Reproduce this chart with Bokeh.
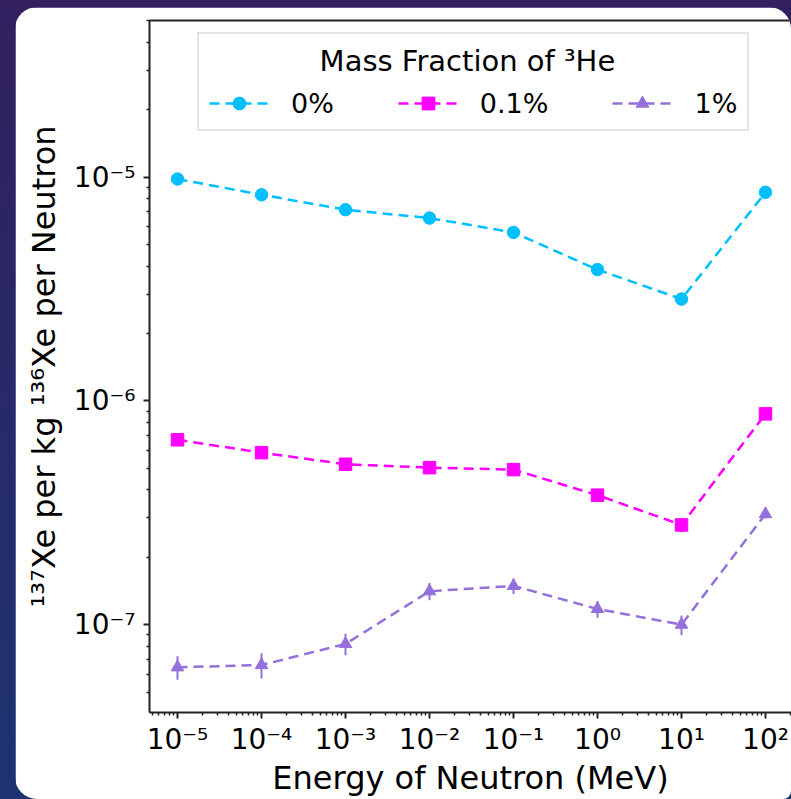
from bokeh.plotting import figure
from bokeh.models import (LogAxis, FixedTicker, CustomJSTickFormatter, Legend,
                          LegendItem, Range1d)
from bokeh.layouts import column
from bokeh.embed import file_html
from bokeh.resources import INLINE

# ---------------- data ----------------
energy = [1e-5, 1e-4, 1e-3, 1e-2, 1e-1, 1e0, 1e1, 1e2]

series_labels = ["0%", "0.1%", "1%"]
xe_0 = [9.8e-6, 8.34e-6, 7.15e-6, 6.56e-6, 5.66e-6, 3.86e-6, 2.85e-6, 8.55e-6]
err_0 = [3.0e-7, 2.5e-7, 2.2e-7, 2.0e-7, 1.7e-7, 1.2e-7, 0.9e-7, 2.6e-7]
xe_01 = [6.7e-7, 5.87e-7, 5.21e-7, 5.03e-7, 4.93e-7, 3.79e-7, 2.79e-7, 8.75e-7]
err_01 = [2.7e-8, 2.4e-8, 2.1e-8, 2.0e-8, 2.0e-8, 1.6e-8, 2.0e-8, 3.5e-8]
xe_1 = [6.45e-8, 6.6e-8, 8.2e-8, 1.41e-7, 1.49e-7, 1.175e-7, 1.0e-7, 3.12e-7]
err_1 = [0.77e-8, 0.85e-8, 0.9e-8, 1.25e-8, 1.2e-8, 1.0e-8, 1.0e-8, 1.3e-8]

x_ticks = [1e-5, 1e-4, 1e-3, 1e-2, 1e-1, 1e0, 1e1, 1e2]
x_tick_labels = ["10\u207b\u2075", "10\u207b\u2074", "10\u207b\u00b3", "10\u207b\u00b2",
                 "10\u207b\u00b9", "10\u2070", "10\u00b9", "10\u00b2"]
y_ticks = [1e-7, 1e-6, 1e-5]
y_tick_labels = ["10\u207b\u2077", "10\u207b\u2076", "10\u207b\u2075"]

legend_title = "Mass Fraction of \u00b3He"
x_label = "Energy of Neutron (MeV)"
y_label = "\u00b9\u00b3\u2077Xe per kg \u00b9\u00b3\u2076Xe per Neutron"

colors = ["#00bfff", "#ff00ff", "#9370db"]
markers = ["circle", "square", "triangle"]

FONT = "DejaVu Sans"

# ---------------- figure ----------------
p = figure(width=776, height=792,
           x_axis_type="log", y_axis_type="log",
           x_range=Range1d(4.64e-6, 204.0), y_range=Range1d(4.05e-8, 5.01e-5),
           output_backend="svg", toolbar_location=None,
           min_border_left=134, min_border_right=0, min_border_top=13,
           min_border_bottom=87,
           x_axis_label=x_label, y_axis_label=y_label,
           background_fill_color="white", border_fill_color="white",
           outline_line_color=None,
           styles={"border-radius": "22px 22px 8px 22px", "overflow": "hidden"})
p.grid.visible = False

xminor = [m * 10.0 ** d for d in range(-6, 3) for m in range(2, 10)]
yminor = [m * 10.0 ** d for d in range(-8, -4) for m in range(2, 10)]

fmt_code = """
const i = tick_vals.findIndex(t => Math.abs(Math.log10(t / tick)) < 1e-6);
return i >= 0 ? tick_labels[i] : "";
"""

xa = p.below[0]
xa.ticker = FixedTicker(ticks=x_ticks, minor_ticks=xminor)
xa.formatter = CustomJSTickFormatter(args=dict(tick_vals=x_ticks, tick_labels=x_tick_labels),
                                     code=fmt_code)
ya = p.left[0]
ya.ticker = FixedTicker(ticks=y_ticks, minor_ticks=yminor)
ya.formatter = CustomJSTickFormatter(args=dict(tick_vals=y_ticks, tick_labels=y_tick_labels),
                                     code=fmt_code)

for ax in (xa, ya):
    ax.axis_line_width = 2
    ax.axis_line_color = "#222222"
    ax.major_tick_line_width = 2
    ax.major_tick_line_color = "#222222"
    ax.minor_tick_line_width = 1.5
    ax.minor_tick_line_color = "#222222"
    ax.major_tick_out = 6
    ax.major_tick_in = 0
    ax.minor_tick_out = 3
    ax.minor_tick_in = 0
    ax.major_label_text_font = FONT
    ax.major_label_text_font_size = "28px"
    ax.major_label_text_color = "black"
    ax.axis_label_text_font = FONT
    ax.axis_label_text_font_size = "32px"
    ax.axis_label_text_font_style = "normal"
    ax.axis_label_text_color = "black"
xa.major_label_standoff = 4
xa.axis_label_standoff = 0
ya.major_label_standoff = 8
ya.axis_label_standoff = 8

top_axis = LogAxis(ticker=FixedTicker(ticks=[]), major_tick_out=0, minor_tick_out=0,
                   major_tick_in=0, minor_tick_in=0,
                   axis_line_width=2, axis_line_color="#222222")
p.add_layout(top_axis, "above")

# ---------------- series ----------------
items = []
for vals, errs, col, mk, lab in zip([xe_0, xe_01, xe_1], [err_0, err_01, err_1],
                                    colors, markers, series_labels):
    lo = [v - e for v, e in zip(vals, errs)]
    hi = [v + e for v, e in zip(vals, errs)]
    ln = p.line(energy, vals, line_color=col, line_width=2.5, line_dash="10 6")
    p.segment(energy, lo, energy, hi, line_color=col, line_width=2)
    sc = p.scatter(energy, vals, marker=mk, size=12.5, fill_color=col, line_color=col)
    items.append(LegendItem(label=lab, renderers=[ln, sc]))

legend = Legend(items=items, orientation="horizontal", location=(48, 581), margin=0,
                title="\u00a0" * 12 + legend_title,
                title_text_font=FONT, title_text_font_size="29px",
                title_text_font_style="normal", title_text_color="black",
                title_standoff=9,
                label_text_font=FONT, label_text_font_size="27px",
                label_text_color="black",
                glyph_width=60, glyph_height=32, label_standoff=22,
                spacing=64, padding=10,
                border_line_color="#cccccc", border_line_width=2,
                background_fill_color="white", background_fill_alpha=1)
p.add_layout(legend)

page = column(p, styles={"background": "linear-gradient(to bottom, #32205f, #1d3372)",
                         "padding-left": "15px", "padding-top": "7px"})

open("out.html", "w").write(file_html(page, INLINE))
